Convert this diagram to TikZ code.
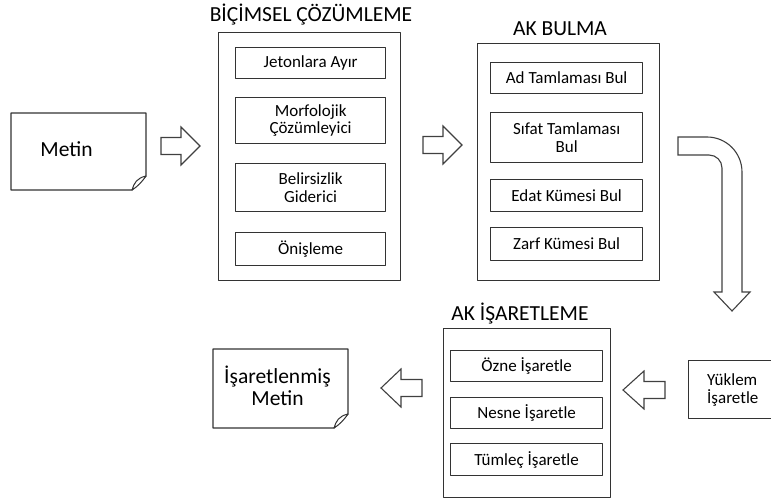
\documentclass[tikz,border=0pt]{standalone}
\usepackage{fontspec}
\setmainfont{Carlito}
\usetikzlibrary{calc}
\begin{document}
\begin{tikzpicture}[x=1pt,y=-1pt,
  line join=round,
  frame/.style={draw=black!80, line width=1.3pt, fill=white, inner sep=0pt},
  stage/.style={frame, anchor=north west},
  task/.style={frame, anchor=north west, align=center, font=\fontsize{17}{17.5}\selectfont, text=black},
  title/.style={font=\fontsize{21.5}{25}\selectfont, text=black},
  doctext/.style={font=\fontsize{21.5}{22}\selectfont, text=black, align=center},
  blockarrow/.style={draw=black!75, line width=1.1pt, fill=white, line join=miter},
  docline/.style={draw=black!80, line width=1.3pt, fill=white}
]
\useasboundingbox (0,0) rectangle (771,502);
\clip (0,0) rectangle (771,502);

% document shape with a curled lower-right corner
\newcommand{\docpage}[5]{% name, left, top, right, bottom
  \draw[docline] (#2,#3) -- (#4,#3) -- (#4,#5-14) -- (#4-14,#5) -- (#2,#5) -- cycle;
  \draw[draw=black!80, line width=1pt, fill=white] (#4,#5-14) .. controls (#4-9,#5-12) and (#4-12,#5-7) .. (#4-14,#5)
     .. controls (#4-9,#5-3) and (#4-4,#5-8) .. (#4,#5-14);
  \coordinate (#1) at ($(#2,#3)!0.5!(#4,#5)$);
}
% hollow block arrow: x of tail, x of head base, x of tip, centre y
\newcommand{\hollowarrow}[4]{%
  \draw[blockarrow] (#1,#4-8.5) -- (#2,#4-8.5) -- (#2,#4-19) -- (#3,#4) -- (#2,#4+19)
    -- (#2,#4+8.5) -- (#1,#4+8.5) -- cycle;
}

% ---- input text
\docpage{metin}{11}{113}{146}{190}
\node[doctext] (metinlbl) at ($(metin)+(-12,-2)$) {Metin};

% ---- morphological analysis
\node[title] (t1) at (311,15) {BİÇİMSEL ÇÖZÜMLEME};
\node[stage, minimum width=182pt, minimum height=248pt] (bc) at (218,32) {};
\node[task, minimum width=150pt, minimum height=31pt] (jet) at (235,47) {Jetonlara Ayır};
\node[task, minimum width=150pt, minimum height=46pt] (mor) at (235,97) {Morfolojik\\Çözümleyici};
\node[task, minimum width=150pt, minimum height=48pt] (bel) at (235,163) {Belirsizlik\\Giderici};
\node[task, minimum width=150pt, minimum height=33pt] (oni) at (235,232) {Önişleme};

% ---- chunk finding
\node[title] (t2) at (560,29) {AK BULMA};
\node[stage, minimum width=182pt, minimum height=237pt] (ab) at (477,43) {};
\node[task, minimum width=152pt, minimum height=31pt] (adt) at (490,62) {Ad Tamlaması Bul};
\node[task, minimum width=152pt, minimum height=50pt] (sft) at (490,112) {Sıfat Tamlaması\\Bul};
\node[task, minimum width=152pt, minimum height=32pt] (edt) at (490,179) {Edat Kümesi Bul};
\node[task, minimum width=152pt, minimum height=33pt] (zrf) at (490,227) {Zarf Kümesi Bul};

% ---- chunk labelling
\node[title] (t3) at (520,314) {AK İŞARETLEME};
\node[stage, minimum width=167pt, minimum height=169pt] (ai) at (443,328) {};
\node[task, minimum width=152pt, minimum height=31pt] (ozn) at (450,350) {Özne İşaretle};
\node[task, minimum width=152pt, minimum height=31pt] (nsn) at (450,397) {Nesne İşaretle};
\node[task, minimum width=152pt, minimum height=32pt] (tml) at (450,443) {Tümleç İşaretle};
\node[task, minimum width=92pt, minimum height=58pt] (ykl) at (688,360) {};
\node[align=left, font=\fontsize{17}{17.5}\selectfont, text=black, anchor=west, inner sep=0pt] (ykllbl) at (707,390) {Yüklem\\İşaretle};

% ---- output text
\docpage{isaret}{213}{349}{348}{428}
\node[doctext] (isaretlbl) at ($(isaret)+(-3,-3)$) {İşaretlenmiş\\Metin};

% ---- flow arrows
\hollowarrow{161}{181}{200}{146}
\hollowarrow{423}{443}{462}{145}
\hollowarrow{422}{401}{381}{388}
\hollowarrow{665}{644}{623}{390}

% bent arrow from chunk finding down to labelling
\draw[blockarrow] (678,137) -- (707,137)
  arc[start angle=-90, end angle=0, radius=35] -- (742,292)
  -- (750,292) -- (732,311) -- (714,292) -- (722,292) -- (722,168)
  arc[start angle=0, end angle=-90, radius=13] -- (678,155) -- cycle;
\end{tikzpicture}
\end{document}
